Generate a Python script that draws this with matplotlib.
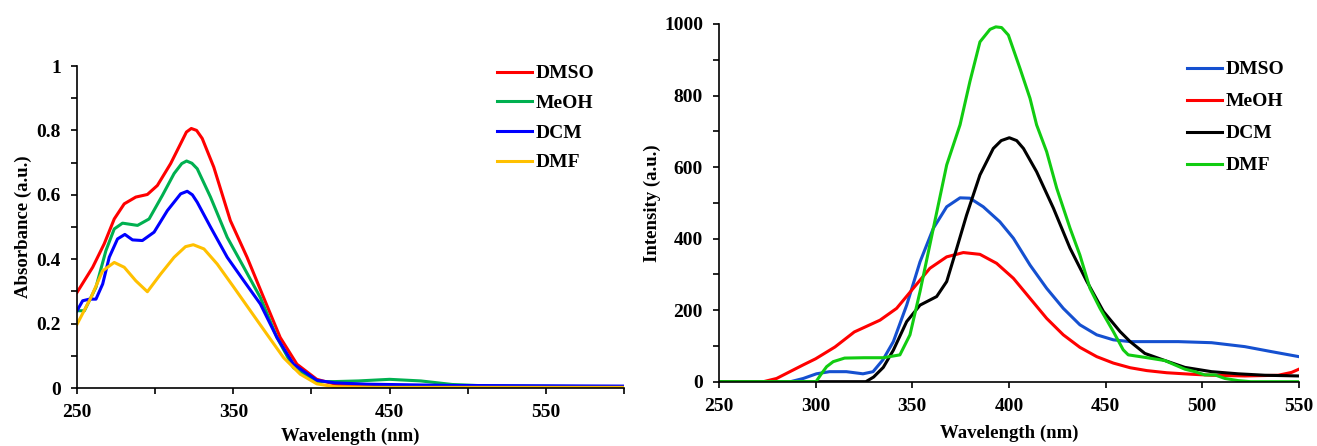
import numpy as np
import matplotlib
matplotlib.use("Agg")
import matplotlib.pyplot as plt
from matplotlib.ticker import MultipleLocator

# =============================================================================
# absorbance data
# =============================================================================
abs_dmso_x = [250, 260, 267.4, 273.8, 280.2, 287.6, 295, 301.4, 309.9, 316.3,
              320, 323.1, 326.5, 330.1, 337.5, 348.1, 358.8, 369.4, 380, 390.7,
              403.4, 415, 430, 500, 600]
abs_dmso_y = [0.297, 0.375, 0.448, 0.525, 0.572, 0.593, 0.601, 0.629, 0.697,
              0.759, 0.795, 0.806, 0.80, 0.775, 0.686, 0.52, 0.406, 0.281,
              0.157, 0.074, 0.027, 0.012, 0.006, 0.004, 0.003]

abs_meoh_x = [250, 254.7, 262.1, 268.5, 273.8, 279.1, 288.7, 296.1, 304.6,
              312.1, 317, 320.1, 323.5, 326.9, 335.4, 346.1, 356.7, 367.3,
              377.9, 388.5, 403.4, 415, 430, 450, 470, 490, 515, 600]
abs_meoh_y = [0.24, 0.24, 0.313, 0.427, 0.494, 0.512, 0.505, 0.525, 0.598,
              0.666, 0.697, 0.705, 0.698, 0.681, 0.593, 0.468, 0.375, 0.281,
              0.157, 0.063, 0.02, 0.02, 0.022, 0.027, 0.022, 0.011, 0.006,
              0.004]

abs_dcm_x = [250, 253.6, 257.9, 262.1, 266.4, 270.6, 275.9, 280.6, 285.5,
             291.8, 299.3, 307.8, 316.3, 320.5, 323.8, 326.9, 335.4, 346.1,
             356.7, 367.3, 377.9, 388.5, 403.4, 415, 435, 490, 600]
abs_dcm_y = [0.24, 0.271, 0.276, 0.276, 0.323, 0.406, 0.463, 0.477, 0.46,
             0.458, 0.484, 0.551, 0.603, 0.611, 0.60, 0.577, 0.5, 0.406,
             0.333, 0.261, 0.157, 0.074, 0.024, 0.016, 0.012, 0.008, 0.006]

abs_dmf_x = [250, 258.9, 266.4, 273.8, 280.2, 287.6, 295, 303.5, 312.1, 319.4,
             324.4, 331.2, 339.7, 350.3, 360.9, 371.5, 382.2, 392.8, 403.4,
             415, 440, 600]
abs_dmf_y = [0.198, 0.281, 0.364, 0.39, 0.375, 0.333, 0.299, 0.354, 0.406,
             0.439, 0.445, 0.432, 0.385, 0.313, 0.24, 0.167, 0.094, 0.043,
             0.013, 0.004, 0.002, 0.002]

# =============================================================================
# emission data
# =============================================================================
em_dmso_x = [250, 287, 293.6, 300.4, 307.2, 315.9, 324.5, 329.7, 334.8, 340.2,
             347.1, 354, 360.9, 367.8, 374.7, 379.8, 386.7, 395.3, 402.3,
             410.9, 419.5, 428.1, 436.7, 445.4, 454, 462.7, 487.6, 504.8, 522,
             535.8, 550]
em_dmso_y = [0, 0, 9, 22, 28, 28, 22, 28, 61, 112, 214, 335, 429, 489, 514,
             513, 489, 447, 401, 326, 261, 205, 159, 131, 117, 112, 112, 109,
             98, 84, 70]

em_meoh_x = [250, 273, 279.8, 286.7, 293.6, 300, 310, 320, 333.3, 341.9,
             350.5, 359.1, 367.8, 376.4, 385, 393.6, 402.3, 410.9, 419.5,
             428.1, 436.7, 445.4, 454, 462.7, 471.3, 481.6, 493.7, 504.8, 522,
             539.3, 546.2, 550]
em_meoh_y = [0, 0, 9, 28, 47, 64, 97, 139, 172, 205, 261, 317, 349, 361, 356,
             331, 289, 233, 177, 131, 96, 70, 52, 39, 31, 25, 21, 18, 16, 18,
             26, 35]

em_dcm_x = [250, 326, 330, 335, 340.2, 347.1, 354, 362.6, 367.8, 373, 378.1,
            385, 391.9, 396, 400.2, 404, 407.5, 414.3, 423, 431.6, 440.3,
            448.9, 457.5, 462.7, 470.3, 480.7, 491, 504.8, 518.6, 532.4, 550]
em_dcm_y = [0, 0, 13, 40, 88, 168, 214, 238, 280, 373, 466, 578, 652, 674,
            682, 674, 652, 587, 485, 373, 280, 196, 140, 112, 79, 59, 40, 28,
            22, 18, 16]

em_dmf_x = [250, 300.2, 303.1, 305.7, 309.1, 315, 325, 335, 343.6, 348.8, 354,
            360.9, 367.8, 374.7, 379.8, 385, 390.2, 393.2, 396.2, 399.7, 405.7,
            410.9, 414.3, 419.5, 424.7, 431.6, 436.7, 441.9, 447.1, 454, 459.1,
            461.7, 470.3, 480.7, 485.8, 491, 496.2, 501.3, 506.5, 511.7,
            518.6, 525, 550]
em_dmf_y = [0, 0, 23, 42, 56, 66, 67, 67, 75, 131, 252, 429, 606, 718, 839,
            950, 985, 992, 990, 969, 876, 792, 718, 643, 541, 429, 354, 261,
            205, 140, 89, 75, 68, 59, 47, 35, 28, 19, 19, 9, 3, 0, 0]

solvents = ["DMSO", "MeOH", "DCM", "DMF"]

# =============================================================================
# plot
# =============================================================================
plt.rcParams['font.family'] = ['Liberation Serif', 'DejaVu Serif']
plt.rcParams['font.weight'] = 'bold'
plt.rcParams['font.size'] = 14

fig = plt.figure(figsize=(13.17, 4.46), dpi=100)
ax1 = fig.add_axes([0.0585, 0.130, 0.4153, 0.722])
ax2 = fig.add_axes([0.5459, 0.1442, 0.4404, 0.802])

lw = 2.2
ax1.plot(abs_dmso_x, abs_dmso_y, c="#FF0000", lw=lw, label=solvents[0])
ax1.plot(abs_meoh_x, abs_meoh_y, c="#00B050", lw=lw, label=solvents[1])
ax1.plot(abs_dcm_x, abs_dcm_y, c="#0000FF", lw=lw, label=solvents[2])
ax1.plot(abs_dmf_x, abs_dmf_y, c="#FFC000", lw=lw, label=solvents[3])

ax2.plot(em_dmso_x, em_dmso_y, c="#1550D0", lw=lw, label=solvents[0])
ax2.plot(em_meoh_x, em_meoh_y, c="#FF0000", lw=lw, label=solvents[1])
ax2.plot(em_dcm_x, em_dcm_y, c="#000000", lw=lw, label=solvents[2])
ax2.plot(em_dmf_x, em_dmf_y, c="#11CC11", lw=lw, label=solvents[3])

ax1.set_xlim(250, 600)
ax1.set_ylim(0, 1)
ax1.set_xticks([250, 350, 450, 550])
ax1.set_xticks([300, 400, 500, 600], minor=True)
ax1.yaxis.set_minor_locator(MultipleLocator(0.1))
ax1.set_yticks([0, 0.2, 0.4, 0.6, 0.8, 1.0], ["0", "0.2", "0.4", "0.6", "0.8", "1"])
ax1.set_xlabel("Wavelength (nm)", fontsize=13.5, fontweight='bold', labelpad=5)
ax1.set_ylabel("Absorbance (a.u.)", fontsize=13.5, fontweight='bold', labelpad=3)

ax2.set_xlim(250, 550)
ax2.set_ylim(0, 1000)
ax2.xaxis.set_major_locator(MultipleLocator(50))
ax2.yaxis.set_major_locator(MultipleLocator(200))
ax2.yaxis.set_minor_locator(MultipleLocator(100))
ax2.set_xlabel("Wavelength (nm)", fontsize=13.5, fontweight='bold', labelpad=7)
ax2.set_ylabel("Intensity (a.u.)", fontsize=13.5, fontweight='bold', labelpad=2)

for ax in (ax1, ax2):
    ax.spines['top'].set_visible(False)
    ax.spines['right'].set_visible(False)
    ax.spines['left'].set_linewidth(1.2)
    ax.spines['bottom'].set_linewidth(1.2)
    ax.tick_params(which='both', direction='out', width=1.2, length=4.5)
    ax.tick_params(axis='x', which='major', pad=7)
    ax.tick_params(axis='y', which='major', pad=7)

ax1.legend(loc='upper left', bbox_to_anchor=(0.753, 1.028), borderaxespad=0,
           frameon=False, handlelength=1.8, handletextpad=0.2,
           labelspacing=0.62, prop={'weight': 'bold', 'size': 14})
ax2.legend(loc='upper left', bbox_to_anchor=(0.793, 0.919), borderaxespad=0,
           frameon=False, handlelength=1.8, handletextpad=0.2,
           labelspacing=0.74, prop={'weight': 'bold', 'size': 14})

fig.savefig("out.png", dpi=100)
